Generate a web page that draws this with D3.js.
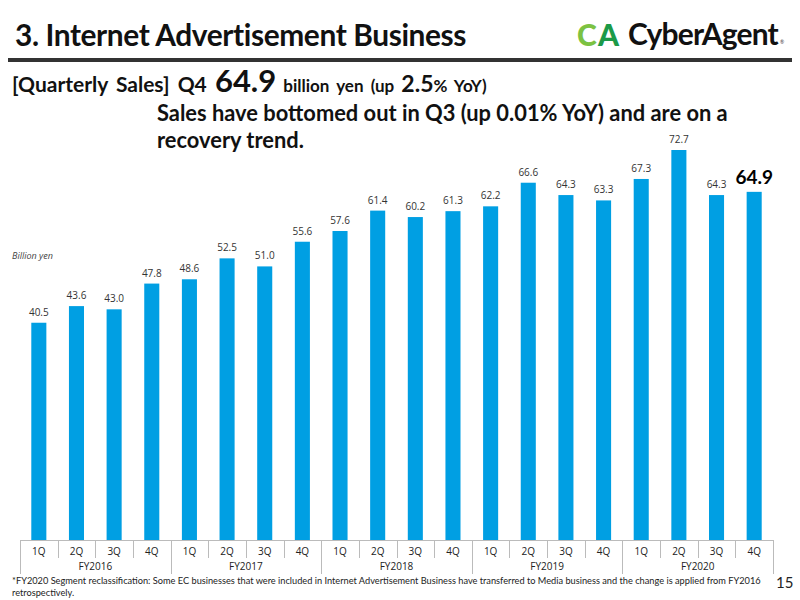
<!DOCTYPE html>
<html>
<head>
<meta charset="utf-8">
<script src="https://cdn.jsdelivr.net/npm/d3@7"></script>
<style>
  body { margin: 0; background: #fff; }
  svg { display: block; font-family: Lato, "Noto Sans", sans-serif; }
</style>
</head>
<body>
<div id="chart"></div>
<script>
// quarterly sales, billion yen
const years = ["FY2016", "FY2017", "FY2018", "FY2019", "FY2020"];
const quarters = ["1Q", "2Q", "3Q", "4Q"];
const sales = [
  40.5, 43.6, 43.0, 47.8,
  48.6, 52.5, 51.0, 55.6,
  57.6, 61.4, 60.2, 61.3,
  62.2, 66.6, 64.3, 63.3,
  67.3, 72.7, 64.3, 64.9
];

const data = sales.map((v, i) => ({
  key: years[Math.floor(i / 4)] + "-" + quarters[i % 4],
  year: years[Math.floor(i / 4)],
  q: quarters[i % 4],
  value: v
}));

const W = 800, H = 600;
const svg = d3.select("#chart").append("svg").attr("width", W).attr("height", H);

// fit a text element to a target width by adjusting font size
function fit(sel, w) {
  const len = sel.node().getComputedTextLength();
  const fs = parseFloat(sel.attr("font-size"));
  sel.attr("font-size", fs * w / len);
}

// header
const title = svg.append("text")
  .attr("x", 15).attr("y", 46)
  .attr("font-size", 27).attr("font-weight", 700).attr("fill", "#111")
  .attr("letter-spacing", -0.4)
  .text("3. Internet Advertisement Business");
fit(title, 450);

svg.append("rect").attr("x", 8).attr("y", 58).attr("width", 784).attr("height", 4).attr("fill", "#333");

// logo
svg.append("text").attr("x", 577).attr("y", 46).attr("font-weight", 900).attr("font-size", 30)
  .attr("fill", "#7cc242").text("C");
svg.append("text").attr("x", 598).attr("y", 46).attr("font-weight", 900).attr("font-size", 30)
  .attr("fill", "#1c9a48").text("A");
const logoTxt = svg.append("text").attr("x", 628).attr("y", 45)
  .attr("font-size", 30).attr("font-weight", 700).attr("fill", "#111")
  .attr("letter-spacing", -0.8)
  .text("CyberAgent");
fit(logoTxt, 150);
svg.append("text").attr("x", 780).attr("y", 44).attr("font-size", 5).attr("fill", "#333").text("®");

// headline
const head = svg.append("text").attr("x", 12).attr("y", 92).attr("font-weight", 700).attr("fill", "#111")
  .attr("word-spacing", 3);
head.append("tspan").attr("font-size", 21).text("[Quarterly Sales] Q4 ");
head.append("tspan").attr("font-size", 31).text("64.9");
head.append("tspan").attr("font-size", 17).text(" billion yen (up ");
head.append("tspan").attr("font-size", 23).text("2.5");
head.append("tspan").attr("font-size", 17).text("% YoY)");

const sub1 = svg.append("text").attr("x", 157).attr("y", 121)
  .attr("font-size", 19).attr("font-weight", 700).attr("fill", "#111")
  .text("Sales have bottomed out in Q3 (up 0.01% YoY) and are on a");
fit(sub1, 571);
svg.append("text").attr("x", 157).attr("y", 148)
  .attr("font-size", sub1.attr("font-size")).attr("font-weight", 700).attr("fill", "#111")
  .text("recovery trend.");

// chart
const x0 = 20, x1 = 773, yBase = 540;
const x = d3.scaleBand().domain(data.map(d => d.key)).range([x0, x1]).paddingInner(0.6).paddingOuter(0.3);
const y = d3.scaleLinear().domain([0, 72.7]).range([yBase, 150]);

svg.append("text").attr("x", 12).attr("y", 259)
  .attr("font-size", 9).attr("font-style", "italic").attr("fill", "#444")
  .attr("font-family", "'Open Sans', sans-serif")
  .text("Billion yen");

svg.selectAll(".bar").data(data).enter().append("rect")
  .attr("class", "bar")
  .attr("x", d => x(d.key))
  .attr("y", d => y(d.value))
  .attr("width", x.bandwidth())
  .attr("height", d => yBase - y(d.value))
  .attr("fill", "#009fe3");

const last = data.length - 1;
svg.selectAll(".lbl").data(data).enter().append("text")
  .attr("class", "lbl")
  .attr("x", d => x(d.key) + x.bandwidth() / 2)
  .attr("y", (d, i) => y(d.value) - (i === last ? 8 : 7))
  .attr("text-anchor", "middle")
  .attr("font-family", (d, i) => i === last ? "Lato, sans-serif" : "'Open Sans', sans-serif")
  .attr("font-size", (d, i) => i === last ? 19 : 10)
  .attr("font-weight", (d, i) => i === last ? 700 : 400)
  .attr("fill", (d, i) => i === last ? "#000" : "#333")
  .text(d => d.value.toFixed(1));

// category axis
const step = (x1 - x0) / data.length;
const ax = svg.append("g").attr("stroke", "#bbb").attr("stroke-width", 1);
ax.append("line").attr("x1", x0).attr("x2", x1).attr("y1", yBase + 0.5).attr("y2", yBase + 0.5);
d3.range(data.length + 1).forEach(i => {
  const xx = Math.round(x0 + i * step) + 0.5;
  ax.append("line").attr("x1", xx).attr("x2", xx)
    .attr("y1", yBase).attr("y2", i % 4 === 0 ? 574 : 558);
});

svg.selectAll(".q").data(data).enter().append("text")
  .attr("x", d => x(d.key) + x.bandwidth() / 2)
  .attr("y", 555)
  .attr("text-anchor", "middle").attr("font-size", 10).attr("fill", "#222")
  .attr("font-family", "'Open Sans', sans-serif")
  .text(d => d.q);

svg.selectAll(".fy").data(years).enter().append("text")
  .attr("x", (d, i) => x0 + (i * 4 + 2) * step)
  .attr("y", 570)
  .attr("text-anchor", "middle").attr("font-size", 10).attr("fill", "#222")
  .attr("font-family", "'Open Sans', sans-serif")
  .text(d => d);

// footnote
const fn1 = svg.append("text").attr("x", 12).attr("y", 584).attr("font-size", 9).attr("fill", "#222")
  .text("*FY2020 Segment reclassification: Some EC businesses that were included in Internet Advertisement Business have transferred to Media business and the change is applied from FY2016");
fit(fn1, 750);
svg.append("text").attr("x", 12).attr("y", 596).attr("font-size", fn1.attr("font-size")).attr("fill", "#222")
  .text("retrospectively.");

svg.append("text").attr("x", 776).attr("y", 588).attr("font-size", 15).attr("fill", "#222").text("15");
</script>
</body>
</html>
